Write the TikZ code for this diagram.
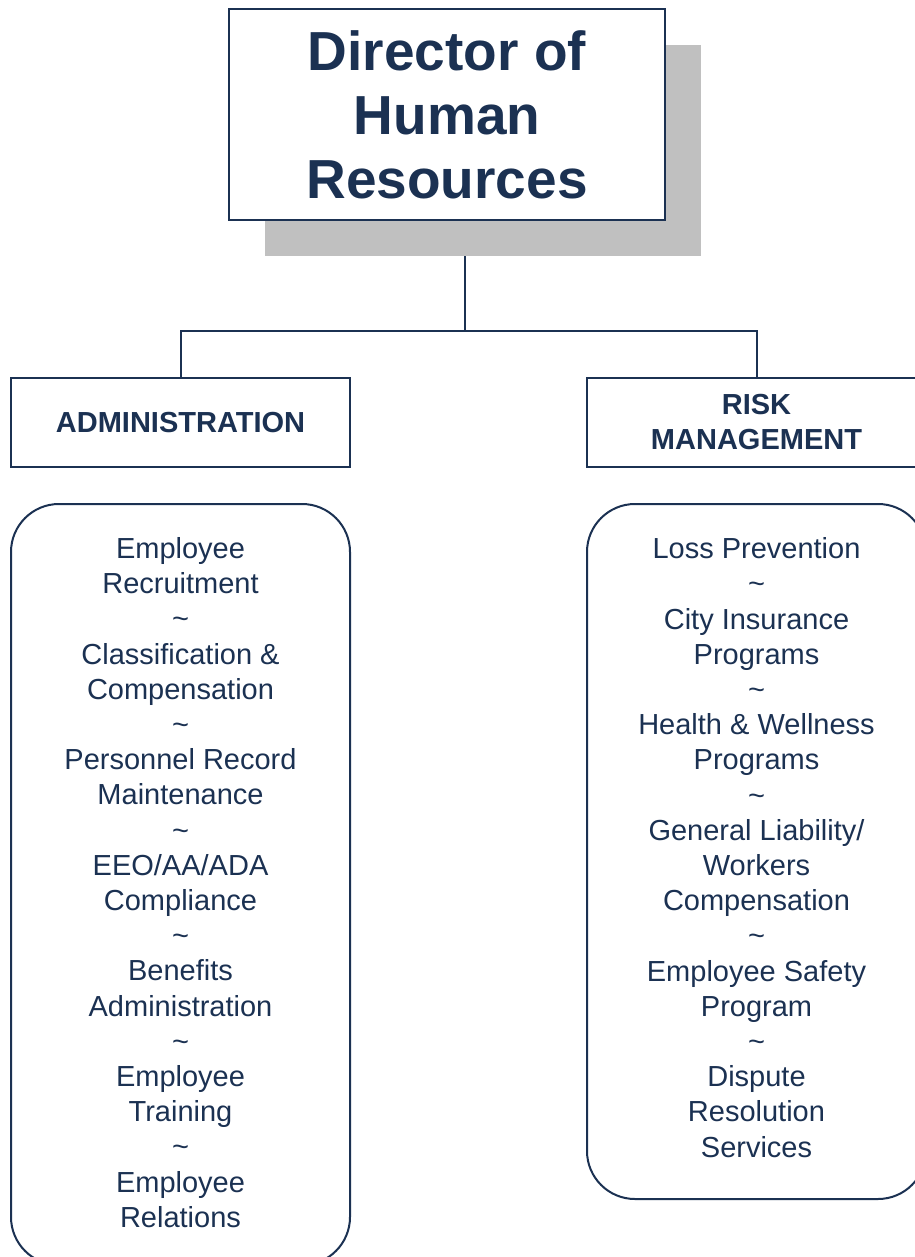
\documentclass[tikz,border=0pt]{standalone}
\usepackage{fontspec}
\setmainfont{Liberation Sans}
\usepackage{tikz}
\usetikzlibrary{positioning,shadows,backgrounds}
\definecolor{navy}{HTML}{1B3152}
\definecolor{shadowgray}{HTML}{C0C0C0}

\begin{document}
\begin{tikzpicture}[
  x=1pt, y=-1pt,
  head/.style={draw=navy, line width=2pt, fill=white, text=navy, align=center, font=\bfseries\fontsize{29}{35}\selectfont, minimum width=339pt, minimum height=89pt, inner sep=0pt},
  duties/.style={draw=navy, line width=2pt, rounded corners=48pt, text=navy, align=center, font=\fontsize{29}{35.2}\selectfont, minimum width=339pt, inner sep=0pt},
  link/.style={draw=navy, line width=2pt}
]
\useasboundingbox (0,0) rectangle (914,1257);

\node[head, minimum width=436pt, minimum height=211pt, font=\bfseries\fontsize{55}{64}\selectfont,
  drop shadow={fill=shadowgray, opacity=1, shadow xshift=36pt, shadow yshift=-36pt}]
  (director) at (447,114.5) {Director of\\Human\\Resources};

\node[head] (admin) at (180.5,422.5) {ADMINISTRATION};
\node[head] (risk) at (756.5,422.5) {RISK\\MANAGEMENT};

\node[duties, minimum height=761pt, below=35pt of admin] (admintasks) {Employee\\Recruitment\\\textasciitilde\\Classification \&\\Compensation\\\textasciitilde\\Personnel Record\\Maintenance\\\textasciitilde\\EEO/AA/ADA\\Compliance\\\textasciitilde\\Benefits\\Administration\\\textasciitilde\\Employee\\Training\\\textasciitilde\\Employee\\Relations\\[-31pt]};
\node[duties, minimum height=695pt, below=35pt of risk] (risktasks) {Loss Prevention\\\textasciitilde\\City Insurance\\Programs\\\textasciitilde\\Health \& Wellness\\Programs\\\textasciitilde\\General Liability/\\Workers\\Compensation\\\textasciitilde\\Employee Safety\\Program\\\textasciitilde\\Dispute\\Resolution\\Services\\[-27pt]};

% tree lines go behind the shadow
\begin{scope}[on background layer]
\coordinate (drop) at ([xshift=18pt]director.south);
\draw[link] (drop) -- ++(0,110) coordinate (bus) -| ([xshift=0.5pt]admin.north);
\draw[link] (bus) -| (risk.north);
\end{scope}
\end{tikzpicture}
\end{document}
